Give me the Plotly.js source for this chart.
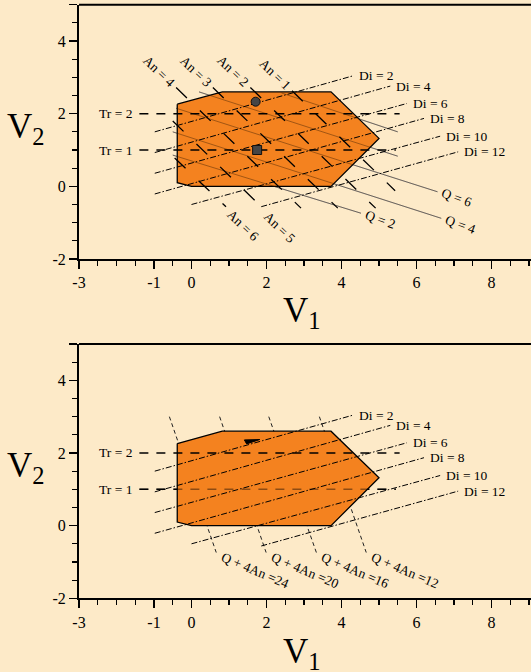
<!DOCTYPE html>
<html>
<head>
<meta charset="utf-8">
<script src="https://cdn.plot.ly/plotly-3.0.1.min.js"></script>
<style>
  html, body { margin: 0; padding: 0; background: #FDEAC8; }
  #chart { width: 531px; height: 672px; }
</style>
</head>
<body>
<div id="chart"></div>
<script>
// Feasible region (V1, V2 vertices)
const polyV1 = [-0.38, 0.82, 3.72, 5.0, 3.72, 0.0, -0.38];
const polyV2 = [2.26, 2.6, 2.6, 1.32, 0.0, 0.0, 0.1];

// Tr iso-lines (horizontal)
const trLevels = [1, 2];
const trX0 = [-1.39, -1.39];
const trX1 = [5.45, 5.55];

// Di iso-lines
const diLevels = [2, 4, 6, 8, 10, 12];
const diX0 = [-0.98, -0.98, -0.98, -0.98, 0.0, 1.86];
const diY0 = [1.5, 0.93, 0.36, -0.21, -0.5, -0.56];
const diX1 = [4.3, 5.3, 5.74, 6.2, 6.63, 7.11];
const diY1 = [3.04, 2.76, 2.28, 1.87, 1.38, 0.95];

// An iso-lines
const anLevels = [1, 2, 3, 4, 5, 6];
const anX0 = [2.68, 1.57, 0.57, -0.41, -0.5, -0.45];
const anY0 = [2.63, 2.72, 2.72, 2.72, 1.8, 0.78];
const anX1 = [5.43, 4.91, 3.9, 2.92, 1.9, 0.92];
const anY1 = [-0.12, -0.6, -0.6, -0.6, -0.6, -0.56];
const anLabelEnd = ['start', 'start', 'start', 'start', 'end', 'end'];

// Q iso-lines
const qLevels = [2, 4, 6, 8, 10];
const qX0 = [-0.5, -0.5, -0.41, 0.2, 2.4];
const qY0 = [0.86, 1.5, 2.15, 2.6, 2.57];
const qX1 = [4.52, 6.66, 6.56, 5.5, 5.5];
const qY1 = [-0.74, -0.88, -0.15, 0.83, 1.5];
const qLabeled = [2, 4, 6];

// Q + 4An iso-lines
const qaLevels = [24, 20, 16, 12];
const qaX0 = [-0.59, 0.75, 2.06, 3.41];
const qaY0 = [3.0, 3.0, 3.0, 3.0];
const qaX1 = [0.66, 1.99, 3.33, 4.66];
const qaY1 = [-0.74, -0.74, -0.74, -0.74];

// Optimal points
const circleV1 = [1.71], circleV2 = [2.33];
const squareV1 = [1.75], squareV2 = [1.0];
const wedgeV1 = [1.41, 1.82, 1.47];
const wedgeV2 = [2.36, 2.37, 2.25];

// Axis ticks
const xTickVals = [-3, -1, 0, 2, 4, 6, 8];
const xTickText = ['-3', '-1', '0', '2', '4', '6', '8'];
const yTickVals = [-2, 0, 2, 4, 5];
const yTickText = ['-2', '0', '2', '4', ' '];

const SERIF = 'Liberation Serif, Times New Roman, serif';
const BG = '#FDEAC8';
const ORANGE = '#F4821F';

const traces = [];
function seg(x0, y0, x1, y1, xa, ya, line) {
  traces.push({
    type: 'scatter', mode: 'lines', x: [x0, x1], y: [y0, y1],
    xaxis: xa, yaxis: ya, line: line, hoverinfo: 'skip', showlegend: false
  });
}
function region(xa, ya) {
  traces.push({
    type: 'scatter', mode: 'lines',
    x: polyV1.concat([polyV1[0]]), y: polyV2.concat([polyV2[0]]),
    xaxis: xa, yaxis: ya, fill: 'toself', fillcolor: ORANGE,
    line: { color: '#000', width: 1.3 }, hoverinfo: 'skip', showlegend: false
  });
}

const diLine = { color: '#000', width: 1, dash: '6px,2px,1.5px,2px' };
const trLine = { color: '#000', width: 1.4, dash: '9px,8px' };
const anLine = { color: '#000', width: 1.3, dash: '15px,18px' };

// ---------- top panel ----------
qLevels.forEach((v, i) => seg(qX0[i], qY0[i], qX1[i], qY1[i], 'x', 'y', { color: '#9a9a9a', width: 1 }));
region('x', 'y');
qLevels.forEach((v, i) => seg(qX0[i], qY0[i], qX1[i], qY1[i], 'x', 'y', { color: 'rgba(40,20,0,0.4)', width: 1 }));
diLevels.forEach((v, i) => seg(diX0[i], diY0[i], diX1[i], diY1[i], 'x', 'y', diLine));
trLevels.forEach((v, i) => seg(trX0[i], v, trX1[i], v, 'x', 'y', trLine));
anLevels.forEach((v, i) => seg(anX0[i], anY0[i], anX1[i], anY1[i], 'x', 'y', anLine));
traces.push({
  type: 'scatter', mode: 'markers', x: circleV1, y: circleV2, xaxis: 'x', yaxis: 'y',
  marker: { symbol: 'circle', size: 9, color: '#454545', line: { color: '#111', width: 1 } },
  hoverinfo: 'skip', showlegend: false
});
traces.push({
  type: 'scatter', mode: 'markers', x: squareV1, y: squareV2, xaxis: 'x', yaxis: 'y',
  marker: { symbol: 'square', size: 9, color: '#454545', line: { color: '#111', width: 1 } },
  hoverinfo: 'skip', showlegend: false
});

// ---------- bottom panel ----------
qaLevels.forEach((v, i) => seg(qaX0[i], qaY0[i], qaX1[i], qaY1[i], 'x2', 'y2', { color: '#222', width: 1, dash: '4px,3px' }));
seg(trX0[0], trLevels[0], trX1[0], trLevels[0], 'x2', 'y2', trLine);
region('x2', 'y2');
seg(trX0[0], trLevels[0], trX1[0], trLevels[0], 'x2', 'y2', { color: 'rgba(0,0,0,0.42)', width: 1.4, dash: '9px,8px' });
seg(trX0[1], trLevels[1], trX1[1], trLevels[1], 'x2', 'y2', trLine);
diLevels.forEach((v, i) => seg(diX0[i], diY0[i], diX1[i], diY1[i], 'x2', 'y2', diLine));
traces.push({
  type: 'scatter', mode: 'lines', x: wedgeV1.concat([wedgeV1[0]]), y: wedgeV2.concat([wedgeV2[0]]),
  xaxis: 'x2', yaxis: 'y2', fill: 'toself', fillcolor: '#000',
  line: { color: '#000', width: 1 }, hoverinfo: 'skip', showlegend: false
});

// ---------- annotations ----------
const lblFont = { family: SERIF, size: 13.5, color: '#000' };
const annotations = [];
function note(o) { annotations.push(Object.assign({ showarrow: false, font: lblFont }, o)); }

[['x', 'y'], ['x2', 'y2']].forEach(([xa, ya]) => {
  diLevels.forEach((v, i) => note({
    x: diX1[i], y: diY1[i], xref: xa, yref: ya, text: 'Di = ' + v,
    xanchor: 'left', yanchor: 'middle', xshift: 4
  }));
  trLevels.forEach((v, i) => note({
    x: trX0[i], y: v, xref: xa, yref: ya, text: 'Tr = ' + v,
    xanchor: 'right', yanchor: 'middle', xshift: -5
  }));
});

anLevels.forEach((v, i) => {
  const atStart = anLabelEnd[i] === 'start';
  note({
    x: atStart ? anX0[i] : anX1[i], y: atStart ? anY0[i] : anY1[i], xref: 'x', yref: 'y',
    text: 'An = ' + v, textangle: 44, xanchor: 'center', yanchor: 'middle',
    xshift: atStart ? -17 : 17, yshift: atStart ? 16 : -19
  });
});

qLevels.forEach((v, i) => {
  if (qLabeled.indexOf(v) < 0) return;
  note({
    x: qX1[i], y: qY1[i], xref: 'x', yref: 'y', text: 'Q = ' + v, textangle: 20,
    xanchor: 'center', yanchor: 'middle', xshift: 19, yshift: -6
  });
});

qaLevels.forEach((v, i) => note({
  x: qaX1[i], y: qaY1[i], xref: 'x2', yref: 'y2', text: 'Q + 4An =' + v, textangle: 23,
  xanchor: 'center', yanchor: 'middle', xshift: 39, yshift: -18
}));

// Axis titles (horizontal, with subscripts)
const titleFont = { family: SERIF, size: 35, color: '#000' };
const L = 79, W = 452, H = 672;
function px(x) { return (x - L) / W; }
function py(y) { return 1 - y / H; }
[[26, 128, 'V<sub>2</sub>'], [302, 312, 'V<sub>1</sub>'], [26, 467, 'V<sub>2</sub>'], [302, 653, 'V<sub>1</sub>']]
  .forEach(([x, y, t]) => annotations.push({
    x: px(x), y: py(y), xref: 'paper', yref: 'paper', text: t, showarrow: false,
    xanchor: 'center', yanchor: 'middle', font: titleFont
  }));

// ---------- axes ----------
function xAxis(anchor) {
  return {
    anchor: anchor, domain: [0, 1], range: [-3, 9.053], showgrid: false, zeroline: false,
    showline: true, linecolor: '#000', linewidth: 2,
    ticks: 'outside', ticklen: 8, tickwidth: 1.5, tickcolor: '#000',
    tickmode: 'array', tickvals: xTickVals, ticktext: xTickText,
    tickfont: { family: SERIF, size: 16, color: '#000' },
    minor: { tickmode: 'linear', tick0: 0, dtick: 0.5, ticks: 'outside', ticklen: 5, tickwidth: 1.2, tickcolor: '#000', showgrid: false },
    automargin: false, fixedrange: true
  };
}
function yAxis(anchor, domain) {
  return {
    anchor: anchor, domain: domain, range: [-2, 5], showgrid: false, zeroline: false,
    showline: true, linecolor: '#000', linewidth: 2,
    ticks: 'outside', ticklen: 8, tickwidth: 1.5, tickcolor: '#000',
    tickmode: 'array', tickvals: yTickVals, ticktext: yTickText,
    tickfont: { family: SERIF, size: 16, color: '#000' },
    minor: { tickmode: 'linear', tick0: 0, dtick: 0.5, ticks: 'outside', ticklen: 5, tickwidth: 1.2, tickcolor: '#000', showgrid: false },
    automargin: false, fixedrange: true
  };
}

const layout = {
  width: 531, height: 672,
  margin: { l: L, r: 0, t: 0, b: 0 },
  paper_bgcolor: BG, plot_bgcolor: BG,
  showlegend: false,
  xaxis: xAxis('y'),
  yaxis: yAxis('x', [py(259), py(4.7)]),
  xaxis2: xAxis('y2'),
  yaxis2: yAxis('x2', [py(598.3), py(344)]),
  shapes: [
    { type: 'line', xref: 'x domain', yref: 'y domain', x0: 0, x1: 1, y0: 1, y1: 1, line: { color: '#000', width: 2 } },
    { type: 'line', xref: 'x2 domain', yref: 'y2 domain', x0: 0, x1: 1, y0: 1, y1: 1, line: { color: '#000', width: 2 } }
  ],
  annotations: annotations
};

Plotly.newPlot('chart', traces, layout, { displayModeBar: false, staticPlot: true });
</script>
</body>
</html>
